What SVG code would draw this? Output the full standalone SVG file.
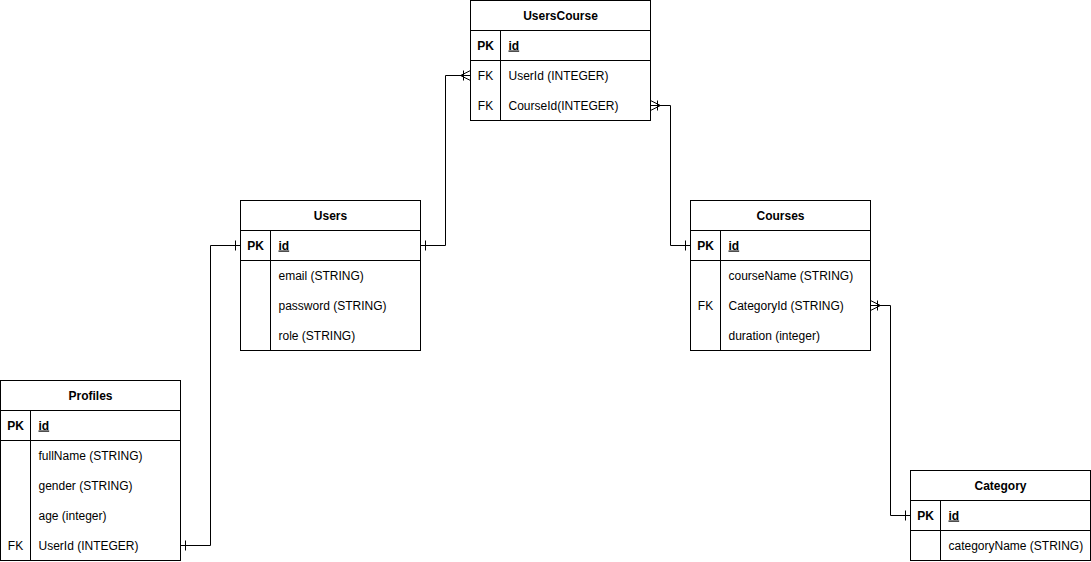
<svg xmlns="http://www.w3.org/2000/svg" width="1091" height="562" viewBox="0 0 1091 562">
<style>
.box{fill:#fff;stroke:#000;stroke-width:1}
.ln{fill:none;stroke:#000;stroke-width:1}
text{font-family:"Liberation Sans",Arial,Helvetica,sans-serif;font-size:12px;fill:#000}
.h{font-weight:bold;text-anchor:middle}
.k{text-anchor:middle}
.pk{font-weight:bold}
.u{font-weight:bold;text-decoration:underline}
</style>
<rect width="1091" height="562" fill="#fff"/>
<g id="connectors" class="ln">
<path d="M420.5 245.5H445.5V75.5H470.5"/>
<path d="M425.5 240.5V250.5"/>
<path d="M463.5 70.5V80.5M460.5 75.5L470.5 70.5M460.5 75.5L470.5 80.5"/>
<path d="M650.5 105.5H670.5V245.5H690.5"/>
<path d="M657.5 100.5V110.5M660.5 105.5L650.5 100.5M660.5 105.5L650.5 110.5"/>
<path d="M685.5 240.5V250.5"/>
<path d="M870.5 305.5H890.5V515.5H910.5"/>
<path d="M877.5 300.5V310.5M880.5 305.5L870.5 300.5M880.5 305.5L870.5 310.5"/>
<path d="M905.5 510.5V520.5"/>
<path d="M180.5 545.5H210.5V245.5H240.5"/>
<path d="M185.5 540.5V550.5"/>
<path d="M235.5 240.5V250.5"/>
</g>
<g id="UsersCourse">
<rect class="box" x="470.5" y="0.5" width="180" height="120"/>
<path class="ln" d="M470.5 30.5H650.5M470.5 60.5H650.5M500.5 30.5V120.5"/>
<text class="h" x="560.5" y="19.5">UsersCourse</text>
<text class="k pk" x="485.5" y="49.5">PK</text><text class="u" x="508.5" y="49.5">id</text>
<text class="k" x="485.5" y="79.5">FK</text><text x="508.5" y="79.5">UserId (INTEGER)</text>
<text class="k" x="485.5" y="109.5">FK</text><text x="508.5" y="109.5">CourseId(INTEGER)</text>
</g>
<g id="Users">
<rect class="box" x="240.5" y="200.5" width="180" height="150"/>
<path class="ln" d="M240.5 230.5H420.5M240.5 260.5H420.5M270.5 230.5V350.5"/>
<text class="h" x="330.5" y="219.5">Users</text>
<text class="k pk" x="255.5" y="249.5">PK</text><text class="u" x="278.5" y="249.5">id</text>
<text x="278.5" y="279.5">email (STRING)</text>
<text x="278.5" y="309.5">password (STRING)</text>
<text x="278.5" y="339.5">role (STRING)</text>
</g>
<g id="Courses">
<rect class="box" x="690.5" y="200.5" width="180" height="150"/>
<path class="ln" d="M690.5 230.5H870.5M690.5 260.5H870.5M720.5 230.5V350.5"/>
<text class="h" x="780.5" y="219.5">Courses</text>
<text class="k pk" x="705.5" y="249.5">PK</text><text class="u" x="728.5" y="249.5">id</text>
<text x="728.5" y="279.5">courseName (STRING)</text>
<text class="k" x="705.5" y="309.5">FK</text><text x="728.5" y="309.5">CategoryId (STRING)</text>
<text x="728.5" y="339.5">duration (integer)</text>
</g>
<g id="Profiles">
<rect class="box" x="0.5" y="380.5" width="180" height="180"/>
<path class="ln" d="M0.5 410.5H180.5M0.5 440.5H180.5M30.5 410.5V560.5"/>
<text class="h" x="90.5" y="399.5">Profiles</text>
<text class="k pk" x="15.5" y="429.5">PK</text><text class="u" x="38.5" y="429.5">id</text>
<text x="38.5" y="459.5">fullName (STRING)</text>
<text x="38.5" y="489.5">gender (STRING)</text>
<text x="38.5" y="519.5">age (integer)</text>
<text class="k" x="15.5" y="549.5">FK</text><text x="38.5" y="549.5">UserId (INTEGER)</text>
</g>
<g id="Category">
<rect class="box" x="910.5" y="470.5" width="180" height="90"/>
<path class="ln" d="M910.5 500.5H1090.5M910.5 530.5H1090.5M940.5 500.5V560.5"/>
<text class="h" x="1000.5" y="489.5">Category</text>
<text class="k pk" x="925.5" y="519.5">PK</text><text class="u" x="948.5" y="519.5">id</text>
<text x="948.5" y="549.5">categoryName (STRING)</text>
</g>
</svg>
